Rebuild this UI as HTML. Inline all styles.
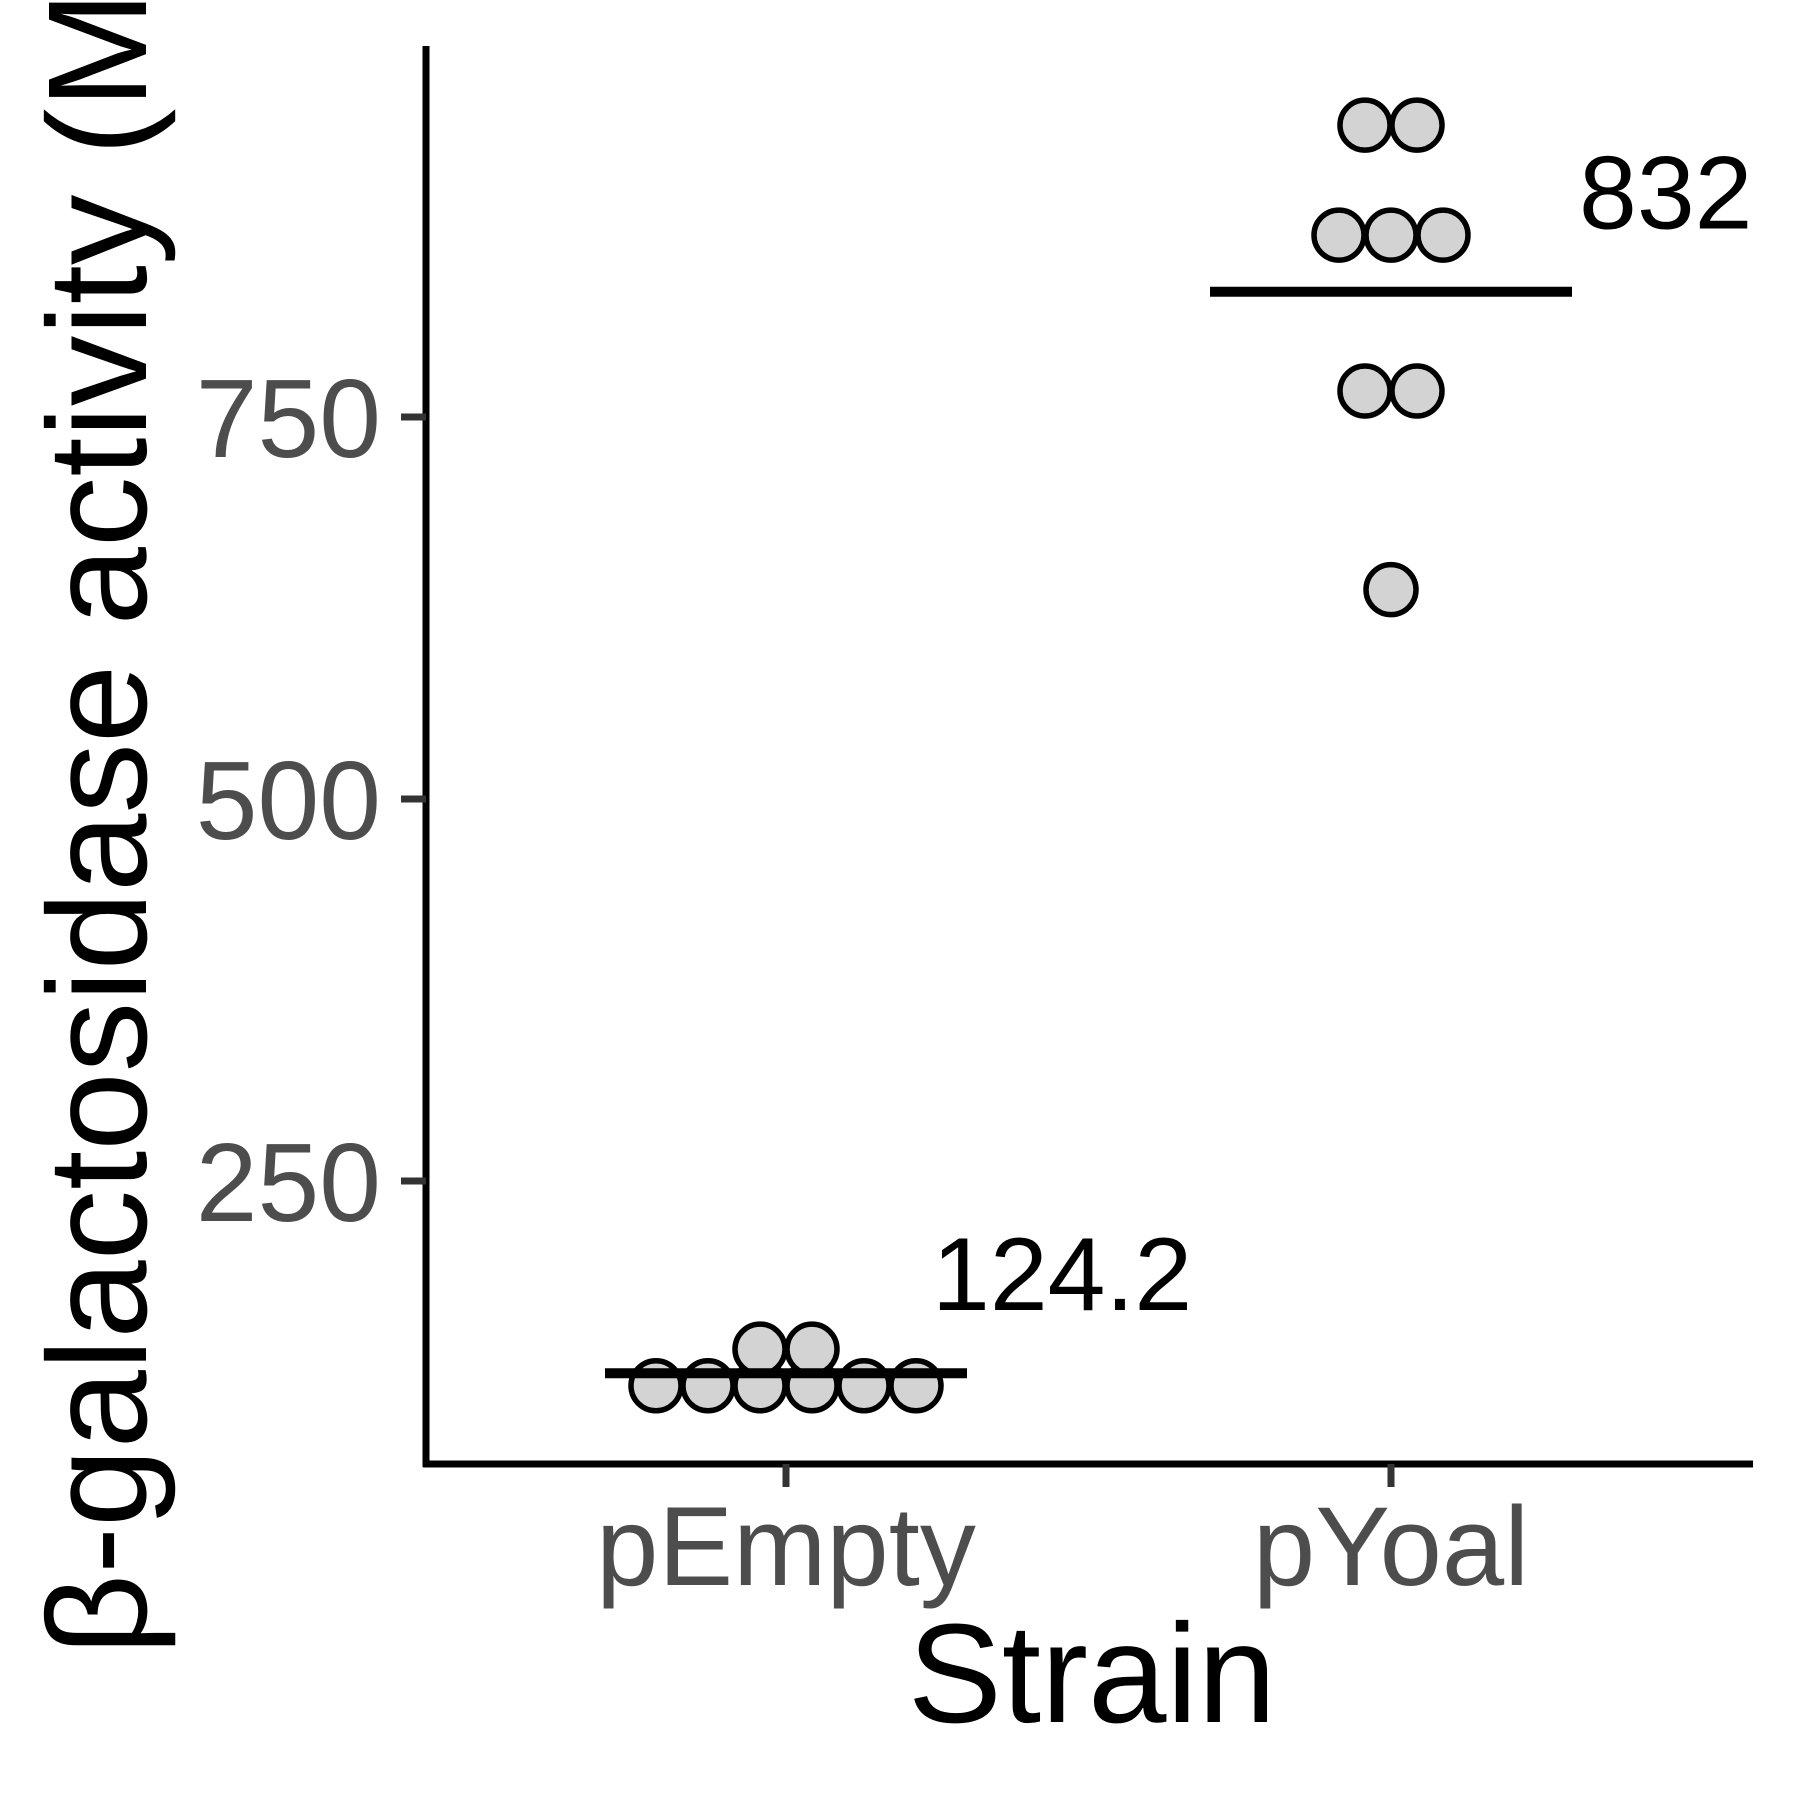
<!DOCTYPE html>
<html><head><meta charset="utf-8"><style>
html,body{margin:0;padding:0;background:#fff;}
svg{display:block;font-family:"Liberation Sans",sans-serif;}
</style></head><body>
<svg id="chart" width="1800" height="1800" viewBox="0 0 1800 1800" xmlns="http://www.w3.org/2000/svg">
<rect width="1800" height="1800" fill="#fff"/>
<g id="marks"></g>
<line x1="426" y1="46" x2="426" y2="1467" stroke="#000" stroke-width="7"/>
<line x1="423" y1="1464" x2="1753" y2="1464" stroke="#000" stroke-width="7"/>
<g id="axes"></g>
<text x="1092" y="1722" font-size="141" text-anchor="middle" fill="#000">Strain</text>
<text transform="translate(146,1655) rotate(-90)" font-size="141" fill="#000">β-galactosidase activity (Miller units)</text>
</svg>
<script>
const categories = ["pEmpty", "pYoal"];
const pEmptyValues = [116, 116, 116, 116, 116, 116, 140, 140];
const pYoalValues = [941, 941, 869, 869, 869, 767, 767, 637];
const meanLabels = ["124.2", "832"];
const meanValues = [124.2, 832];
const yTicks = [250, 500, 750];

const NS = "http://www.w3.org/2000/svg";
function yPx(v){ return 1563 - v * 382 / 250; }
function xPx(i){ return 786 + i * 605; }
function mk(tag, attrs, parent){
  const e = document.createElementNS(NS, tag);
  for (const k in attrs) e.setAttribute(k, attrs[k]);
  parent.appendChild(e); return e;
}
const axes = document.getElementById("axes");
const marks = document.getElementById("marks");

yTicks.forEach(t => {
  const l = mk("line", {x1:401, x2:426, y1:yPx(t), y2:yPx(t), stroke:"#333", "stroke-width":7}, axes);
  
  
  const tx = mk("text", {x:381, y:yPx(t)+40, "font-size":111, "text-anchor":"end", fill:"#4d4d4d"}, axes);
  tx.textContent = t;
  
  
});
categories.forEach((c, i) => {
  const l = mk("line", {x1:xPx(i), x2:xPx(i), y1:1464, y2:1487, stroke:"#333", "stroke-width":7}, axes);
  
  
  const tx = mk("text", {x:xPx(i), y:1585, "font-size":112, "text-anchor":"middle", fill:"#4d4d4d"}, axes);
  tx.textContent = c;
  
  
});

const series = [pEmptyValues, pYoalValues];
const step = 52;
series.forEach((vals, i) => {
  const groups = [];
  vals.forEach(v => {
    const g = groups.find(g => g.v === v);
    if (g) g.n++; else groups.push({v, n:1});
  });
  groups.forEach(g => {
    for (let k = 0; k < g.n; k++) {
      const cx = xPx(i) + (k - (g.n - 1) / 2) * step;
      const c = mk("circle", {cx, cy:yPx(g.v), r:25, fill:"#d3d3d3", stroke:"#000", "stroke-width":5.5}, marks);
      
      
    }
  });
  const m = mk("line", {x1:xPx(i)-181, x2:xPx(i)+181, y1:yPx(meanValues[i]), y2:yPx(meanValues[i]), stroke:"#000", "stroke-width":10}, marks);
  
  
  const lab = mk("text", {x:xPx(i)+146 + (i===1?42:0), y:yPx(meanValues[i])-63, "font-size":104, fill:"#000"}, marks);
  lab.textContent = meanLabels[i];
  
  
});
</script>
</body></html>
